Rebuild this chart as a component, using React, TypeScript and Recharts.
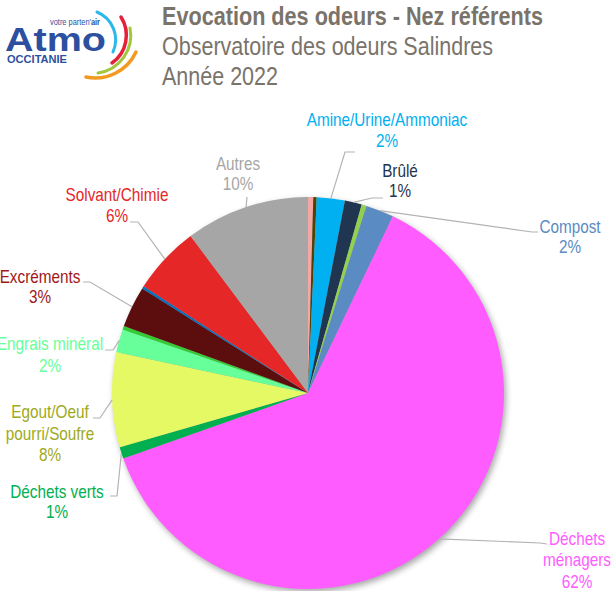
import React from 'react';
import { PieChart, Pie, Cell } from 'recharts';

const CATEGORIES = [
  'Non précisé A',
  'Non précisé B',
  'Amine/Urine/Ammoniac',
  'Brûlé',
  'Non précisé C',
  'Compost',
  'Déchets ménagers',
  'Déchets verts',
  'Egout/Oeuf pourri/Soufre',
  'Engrais minéral',
  'Non précisé D',
  'Excréments',
  'Non précisé E',
  'Solvant/Chimie',
  'Autres',
];
const VALUES = [0.43, 0.28, 2.3, 1.4, 0.4, 2.3, 62.3, 0.95, 7.8, 1.9, 0.3, 3.4, 0.2, 5.6, 10.2];
const SLICE_COLORS = [
  '#f4a7a5', '#4f4300', '#00b0f0', '#1f3550', '#92d050', '#5a8bc2', '#ff5cff', '#00b050',
  '#e5f965', '#66ff99', '#33cc33', '#5c0e0e', '#0070c0', '#e52727', '#a6a6a6',
];
const LABEL_COLORS: Record<string, string> = {
  'Amine/Urine/Ammoniac': '#00b0f0',
  'Brûlé': '#1f3550',
  'Compost': '#5a8bc2',
  'Déchets ménagers': '#ff5cff',
  'Déchets verts': '#00b050',
  'Egout/Oeuf pourri/Soufre': '#9ea91c',
  'Engrais minéral': '#66ff99',
  'Excréments': '#a01818',
  'Solvant/Chimie': '#e52727',
  'Autres': '#a6a6a6',
};

const data = CATEGORIES.map((name, i) => ({ name, value: VALUES[i], color: SLICE_COLORS[i] }));

// label layout (positions only)
const LABEL_LAYOUT: Record<string, { lines: string[]; x: number; ys: number[]; path: number[][] }> = {
  'Amine/Urine/Ammoniac': { lines: ['Amine/Urine/Ammoniac'], x: 387, ys: [126, 147], path: [[345, 152], [355, 152]] },
  'Brûlé': { lines: ['Brûlé'], x: 400, ys: [177, 197], path: [[372, 198], [383, 198]] },
  'Compost': { lines: ['Compost'], x: 570, ys: [233, 253], path: [[532, 232], [538, 232]] },
  'Déchets ménagers': { lines: ['Déchets', 'ménagers'], x: 577, ys: [545, 566, 588], path: [[540, 543], [547, 544]] },
  'Déchets verts': { lines: ['Déchets verts'], x: 57, ys: [498, 518], path: [[117, 496], [110, 496]] },
  'Egout/Oeuf pourri/Soufre': { lines: ['Egout/Oeuf', 'pourri/Soufre'], x: 50, ys: [418, 440, 461], path: [[100, 418], [93, 418]] },
  'Engrais minéral': { lines: ['Engrais minéral'], x: 50, ys: [350, 372], path: [[113, 350], [105, 350]] },
  'Excréments': { lines: ['Excréments'], x: 40, ys: [283, 303], path: [[90, 282], [83, 282]] },
  'Solvant/Chimie': { lines: ['Solvant/Chimie'], x: 117, ys: [201, 222], path: [[138, 222], [130, 222]] },
  'Autres': { lines: ['Autres'], x: 238, ys: [170, 190], path: [[247, 197]] },
};

const FONT = "'Liberation Sans', Arial, sans-serif";
const NARROW = 0.85;
const RAD = Math.PI / 180;

const renderLabel = (props: any) => {
  const { cx, cy, midAngle, outerRadius, name, percent } = props;
  const layout = LABEL_LAYOUT[name];
  if (!layout) return null;
  const sx = cx + outerRadius * Math.cos(-midAngle * RAD);
  const sy = cy + outerRadius * Math.sin(-midAngle * RAD);
  const pts = [[sx, sy], ...layout.path].map((p) => p.join(',')).join(' ');
  const color = LABEL_COLORS[name];
  const lines = [...layout.lines, `${Math.round(percent * 100)}%`];
  return (
    <g key={`lbl-${name}`}>
      <polyline points={pts} fill="none" stroke="#b3b3b3" strokeWidth={1.2} />
      {lines.map((t, i) => (
        <text
          key={i}
          x={0}
          y={0}
          transform={`translate(${layout.x},${layout.ys[i]}) scale(${NARROW},1)`}
          textAnchor="middle"
          fill={color}
          fontSize={18}
          fontFamily={FONT}
        >
          {t}
        </text>
      ))}
    </g>
  );
};

const Logo = () => (
  <svg width={160} height={90} style={{ position: 'absolute', left: 0, top: 0 }}>
    <path d="M 97 12 A 30 30 0 0 1 113 52" fill="none" stroke="#2bb8ea" strokeWidth={3} strokeLinecap="round" />
    <path d="M 121 17 A 34 34 0 0 1 112 63" fill="none" stroke="#e5203c" strokeWidth={3.5} strokeLinecap="round" />
    <path d="M 130 28 A 38 38 0 0 1 98 73" fill="none" stroke="#a2c73b" strokeWidth={3} strokeLinecap="round" />
    <path d="M 136 52 A 45 45 0 0 1 86 77" fill="none" stroke="#f39a1e" strokeWidth={3.5} strokeLinecap="round" />
    <text x={50} y={25} fontSize={9} fill="#2d4fa0" fontFamily={FONT} textLength={50} lengthAdjust="spacingAndGlyphs">
      votre parten'<tspan fontWeight="bold">air</tspan>
    </text>
    <text x={5} y={51} fontSize={34} fontWeight="bold" fill="#2d4fa0" fontFamily={FONT} textLength={101} lengthAdjust="spacingAndGlyphs">
      Atmo
    </text>
    <text x={7} y={63} fontSize={11} fontWeight="bold" fill="#2d4fa0" fontFamily={FONT} textLength={60} lengthAdjust="spacingAndGlyphs">
      OCCITANIE
    </text>
  </svg>
);

export default function App() {
  return (
    <div style={{ position: 'absolute', left: 0, top: 0, width: 615, height: 591, background: '#fff', overflow: 'hidden' }}>
      <PieChart width={615} height={591} margin={{ top: 0, right: 0, bottom: 0, left: 0 }}>
        <defs>
          <filter id="pieShadow" x="-20%" y="-20%" width="140%" height="140%">
            <feGaussianBlur in="SourceAlpha" stdDeviation="3" />
            <feOffset dx="2" dy="3" result="b" />
            <feComponentTransfer>
              <feFuncA type="linear" slope="0.35" />
            </feComponentTransfer>
          </filter>
        </defs>
        <Pie
          data={[{ name: 'shadow', value: 1 }]}
          dataKey="value"
          cx={308}
          cy={393}
          outerRadius={196}
          startAngle={90}
          endAngle={-270}
          stroke="none"
          isAnimationActive={false}
          label={false}
          labelLine={false}
        >
          <Cell fill="#000" filter="url(#pieShadow)" />
        </Pie>
        <Pie
          data={data}
          dataKey="value"
          nameKey="name"
          cx={308}
          cy={393}
          outerRadius={196}
          startAngle={90}
          endAngle={-270}
          stroke="none"
          isAnimationActive={false}
          label={renderLabel}
          labelLine={false}
        >
          {data.map((d) => (
            <Cell key={d.name} fill={d.color} />
          ))}
        </Pie>
      </PieChart>
      <Logo />
      <svg width={615} height={100} style={{ position: 'absolute', left: 0, top: 0 }}>
        <text x={162} y={25} fontSize={25} fontWeight="bold" fill="#7a736a" fontFamily={FONT} textLength={381} lengthAdjust="spacingAndGlyphs">
          Evocation des odeurs - Nez référents
        </text>
        <text x={162} y={55} fontSize={25} fill="#7a736a" fontFamily={FONT} textLength={331} lengthAdjust="spacingAndGlyphs">
          Observatoire des odeurs Salindres
        </text>
        <text x={162} y={85} fontSize={25} fill="#7a736a" fontFamily={FONT} textLength={116} lengthAdjust="spacingAndGlyphs">
          Année 2022
        </text>
      </svg>
    </div>
  );
}
